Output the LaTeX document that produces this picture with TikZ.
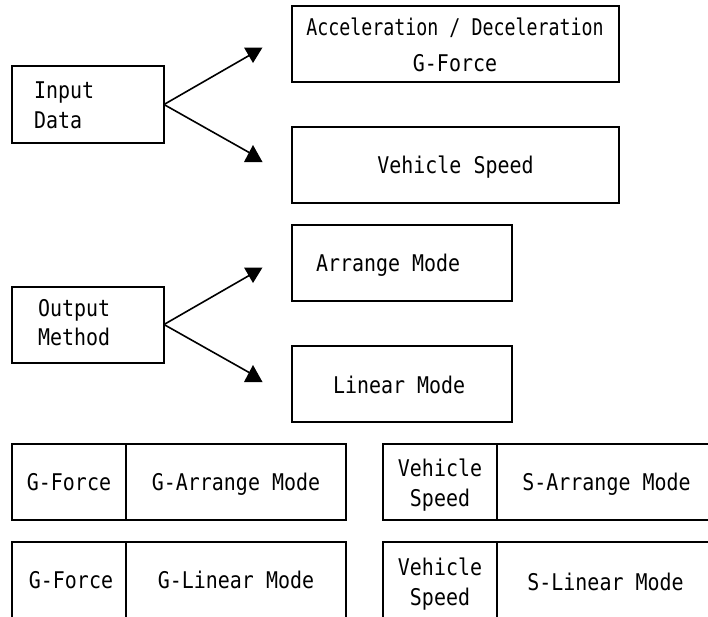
\documentclass[tikz,border=0pt]{standalone}
\usepackage{fontspec}
\newfontfamily\gfont[FakeStretch=0.867]{DejaVu Sans Mono}
\newfontfamily\gfontn[FakeStretch=0.795]{DejaVu Sans Mono}
\begin{document}
\begin{tikzpicture}[x=1pt,y=-1pt,
  box/.style={draw,line width=2pt,inner sep=0pt,outer sep=0pt,
    font=\fontsize{23}{30}\gfont,text height=16.8pt,text depth=0pt},
  tx/.style={inner sep=0pt,outer sep=0pt,font=\fontsize{23}{30}\gfont,
    text height=16.8pt,text depth=0pt},
  txn/.style={tx,font=\fontsize{23}{30}\gfontn},
  conn/.style={line width=1.6pt},
  tipf/.style={fill=black}]
\clip (0,0) rectangle (708,616);
\useasboundingbox (0,0) rectangle (708,616);
\fill[white] (0,0) rectangle (708,616);

% input group
\node[box,minimum width=152pt,minimum height=77pt] (in) at (88,104.5) {};
\node[tx,anchor=west] (inT1) at (34,90) {Input};
\node[tx,anchor=west] (inT2) at (34,120) {Data};
\node[box,minimum width=327pt,minimum height=76pt] (acc) at (455.5,44) {};
\node[txn] (accT1) at (455,27) {Acceleration / Deceleration};
\node[tx] (accT2) at (455,63) {G-Force};
\node[box,minimum width=327pt,minimum height=76pt] (vs) at (455.5,165) {Vehicle Speed};

\coordinate (ta1) at (250,55);
\coordinate (ta2) at (250,153);
\draw[conn] (in.east) -- (ta1);
\draw[conn] (in.east) -- (ta2);
\fill[tipf] ([shift={(-6,-7.5)}]ta1) -- ([shift={(12.5,-7.5)}]ta1) -- ([shift={(3,8)}]ta1) -- cycle;
\fill[tipf] ([shift={(3,-8)}]ta2) -- ([shift={(-6,9)}]ta2) -- ([shift={(12.5,9)}]ta2) -- cycle;

% output group
\node[box,minimum width=152pt,minimum height=76pt] (out) at (88,324.5) {};
\node[tx,anchor=west] (outT1) at (38,308) {Output};
\node[tx,anchor=west] (outT2) at (38,337) {Method};
\node[box,minimum width=220pt,minimum height=76pt] (arr) at (402,263) {};
\node[tx,anchor=west] (arrT) at (316,263) {Arrange Mode};
\node[box,minimum width=220pt,minimum height=76pt] (lin) at (402,384) {};
\node[tx,anchor=west] (linT) at (333,385) {Linear Mode};

\coordinate (tb1) at (250,275);
\coordinate (tb2) at (250,373);
\draw[conn] (out.east) -- (tb1);
\draw[conn] (out.east) -- (tb2);
\fill[tipf] ([shift={(-6,-7.5)}]tb1) -- ([shift={(12.5,-7.5)}]tb1) -- ([shift={(3,8)}]tb1) -- cycle;
\fill[tipf] ([shift={(3,-8)}]tb2) -- ([shift={(-6,9)}]tb2) -- ([shift={(12.5,9)}]tb2) -- cycle;

% bottom tables
\node[box,minimum width=114pt,minimum height=76pt] (g1a) at (69,482) {G-Force};
\node[box,minimum width=220pt,minimum height=76pt] (g1b) at (236,482) {G-Arrange Mode};
\node[box,minimum width=114pt,minimum height=76pt] (g2a) at (69,580) {};
\node[tx] (g2aT) at (71,580) {G-Force};
\node[box,minimum width=220pt,minimum height=76pt] (g2b) at (236,580) {G-Linear Mode};

\node[box,minimum width=114pt,minimum height=76pt] (s1a) at (440,482) {};
\node[tx] (s1aT1) at (440,468) {Vehicle};
\node[tx] (s1aT2) at (440,498) {Speed};
\node[box,minimum width=215pt,minimum height=76pt] (s1b) at (604.5,482) {};
\node[tx] (s1bT) at (606.5,482) {S-Arrange Mode};
\node[box,minimum width=114pt,minimum height=76pt] (s2a) at (440,580) {};
\node[tx] (s2aT1) at (440,567) {Vehicle};
\node[tx] (s2aT2) at (440,597) {Speed};
\node[box,minimum width=215pt,minimum height=76pt] (s2b) at (604.5,580) {};
\node[tx] (s2bT) at (605.5,582) {S-Linear Mode};
\end{tikzpicture}
\end{document}
